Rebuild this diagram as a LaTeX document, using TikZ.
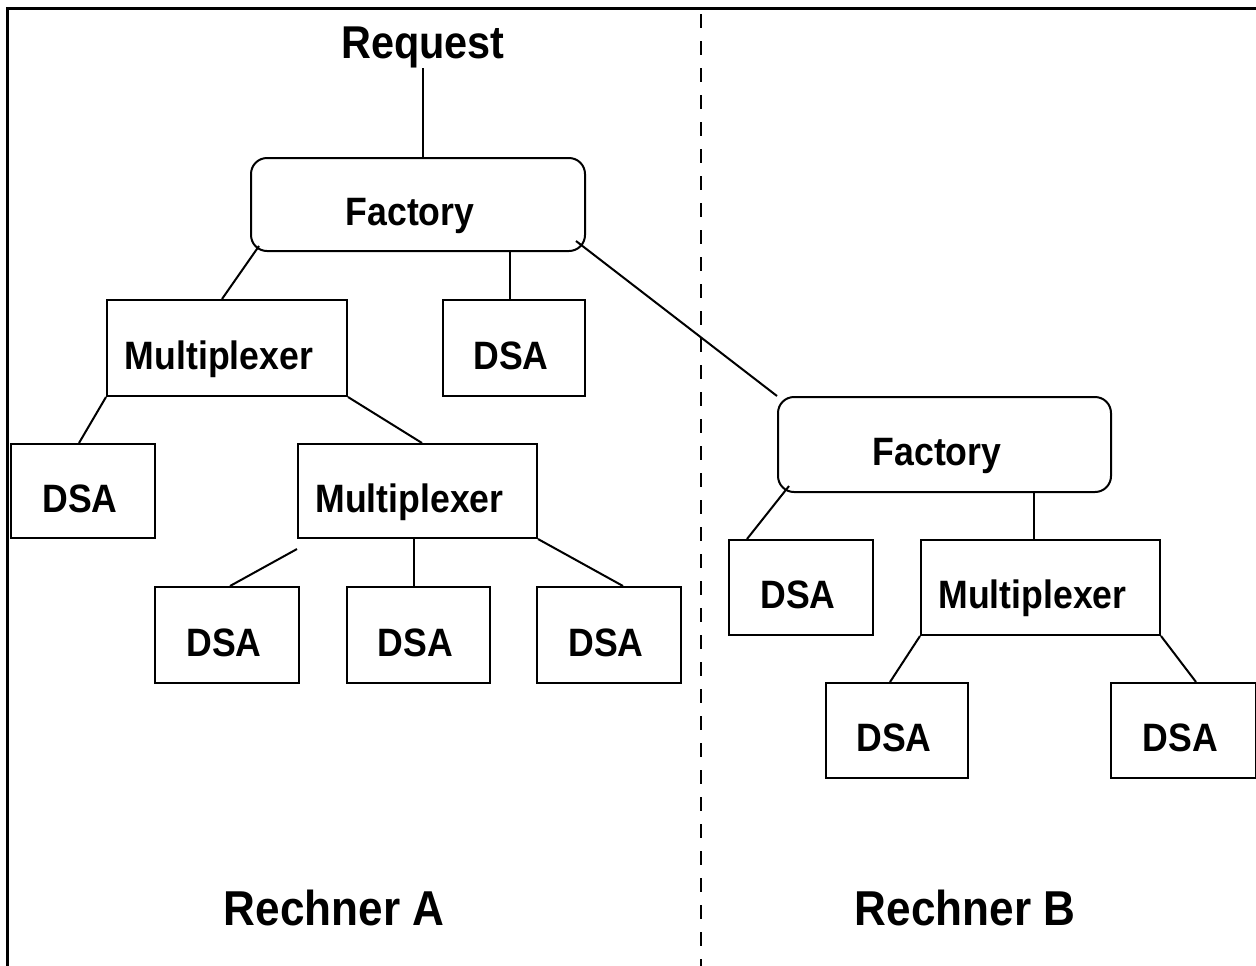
\documentclass[tikz,border=0pt]{standalone}
\usepackage{fontspec}
\setmainfont{Liberation Sans}[FakeStretch=0.9]
\usetikzlibrary{calc}
\begin{document}
\begin{tikzpicture}[x=0.5pt,y=-0.5pt,
  line width=1pt,
  boxlabel/.style={font=\bfseries\fontsize{19.8}{22}\selectfont, text height=21pt, text depth=0pt},
  plainbox/.style={draw, rectangle, boxlabel, inner sep=0pt},
  factorybox/.style={draw, rectangle, rounded corners=8pt, boxlabel, inner sep=0pt},
  leftset/.style={execute at end node={\kern#1}},
  hostlabel/.style={font=\bfseries\fontsize{24.5}{28}\selectfont},
  conn/.style={line width=1pt},
  frameline/.style={line width=1.5pt},
  divider/.style={line width=1pt, dash pattern=on 7pt off 6.5pt}]
\useasboundingbox (0,0) rectangle (1256,965);

% outer frame and the dashed separation between the two machines
\draw[frameline] (7,975) -- (7,8) -- (1266,8);
\draw[divider] (701,14) -- (701,975);

% machine A
\node[font=\bfseries\fontsize{23}{26}\selectfont] (req) at (423,47) {Request};
\node[factorybox, leftset=8pt, minimum width=167pt, minimum height=46.5pt] (F1) at (418,204.5) {Factory};
\node[plainbox, leftset=8pt, minimum width=120pt, minimum height=48pt] (M1) at (227,348) {Multiplexer};
\node[plainbox, leftset=3pt, minimum width=71pt, minimum height=48pt] (D0) at (514,348) {DSA};
\node[plainbox, leftset=3pt, minimum width=72pt, minimum height=47pt] (DL) at (83,491) {DSA};
\node[plainbox, leftset=8pt, minimum width=119.5pt, minimum height=47pt] (M2) at (417.5,491) {Multiplexer};
\node[plainbox, leftset=3pt, minimum width=72pt, minimum height=48pt] (D1) at (227,635) {DSA};
\node[plainbox, leftset=3pt, minimum width=71.5pt, minimum height=48pt] (D2) at (418.5,635) {DSA};
\node[plainbox, leftset=3pt, minimum width=72pt, minimum height=48pt] (D3) at (609,635) {DSA};

% machine B
\node[factorybox, leftset=7.5pt, minimum width=166.5pt, minimum height=47.5pt] (F2) at (944.5,444.5) {Factory};
\node[plainbox, leftset=3pt, minimum width=72pt, minimum height=47.5pt] (D4) at (801,587.5) {DSA};
\node[plainbox, leftset=8pt, minimum width=119.5pt, minimum height=47.5pt] (M3) at (1040.5,587.5) {Multiplexer};
\node[plainbox, leftset=3pt, minimum width=71pt, minimum height=47.5pt] (D5) at (897,730.5) {DSA};
\node[plainbox, leftset=3pt, minimum width=72.5pt, minimum height=47.5pt] (D6) at (1183.5,730.5) {DSA};

\node[hostlabel] (hostA) at (334,908) {Rechner A};
\node[hostlabel] (hostB) at (965,908) {Rechner B};

% connections
\draw[conn] ($(req.south)+(0,-7)$) -- (req.south |- F1.north);
\draw[conn] ($(F1.south west)+(9,-6)$) -- ($(M1.north)+(-5,0)$);
\draw[conn] ($(D0.north)+(-4,0)$) -- ($(D0.north |- F1.south)+(-4,0)$);
\draw[conn] ($(F1.south east)+(-10,-11)$) -- (F2.north west);
\draw[conn] (M1.south west) -- ($(DL.north)+(-4,0)$);
\draw[conn] (M1.south east) -- ($(M2.north)+(4.5,0)$);
\draw[conn] ($(M2.south west)+(0,10)$) -- ($(D1.north)+(3,0)$);
\draw[conn] ($(M2.south)+(-3.5,0)$) -- ($(D2.north)+(-4.5,0)$);
\draw[conn] (M2.south east) -- ($(D3.north)+(14,0)$);
\draw[conn] ($(F2.south west)+(12,-7)$) -- ($(D4.north west)+(19,0)$);
\draw[conn] ($(M3.north west)+(114,0)$) -- ($(F2.south west)+(257,0)$);
\draw[conn] (M3.south west) -- ($(D5.north west)+(65,0)$);
\draw[conn] (M3.south east) -- ($(D6.north west)+(86,0)$);
\end{tikzpicture}
\end{document}
